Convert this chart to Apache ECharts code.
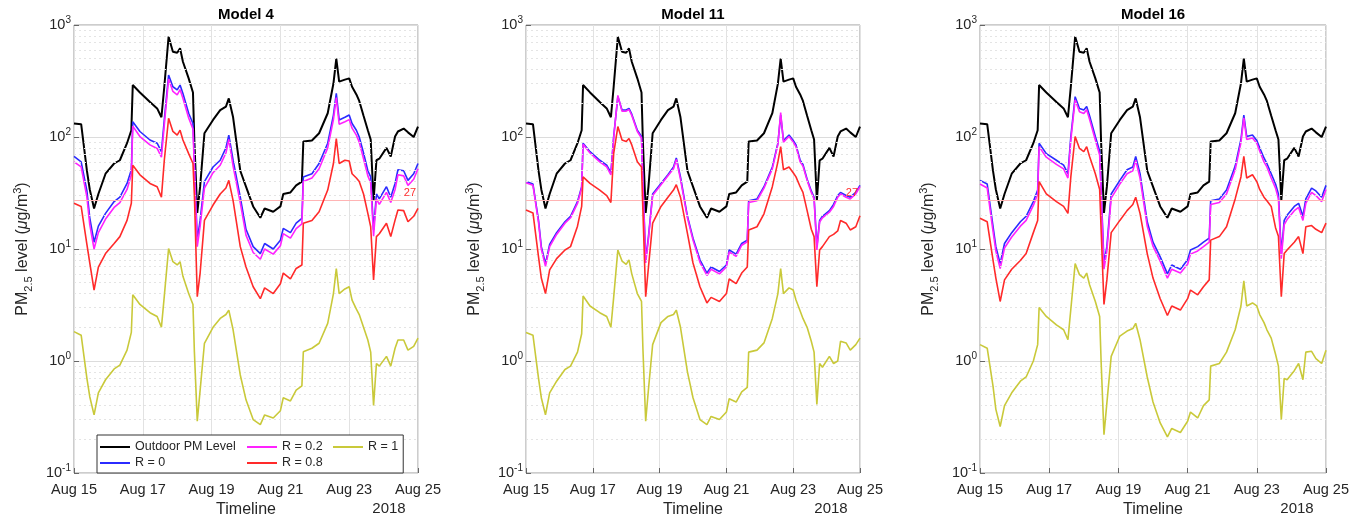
<!DOCTYPE html>
<html>
<head>
<meta charset="utf-8">
<script src="https://cdn.jsdelivr.net/npm/echarts@6/dist/echarts.min.js"></script>
<style>
  html, body { margin: 0; padding: 0; background: #fff; }
  #main { width: 1363px; height: 529px; }
</style>
</head>
<body>
<div id="main"></div>
<script>
// hours since 2018-08-15 00:00
var hours = [0,5,9,11,14,17,22,28,32,37, 40,41,46,53,58,61,63,66,69,72, 74,76,80,83,84,86,88,91,97,102,
  106,108,111,116,120,125,130,133,139,144, 146,151,155,159,160,166,171,177,181,183, 185,189,192,194,197,199,202,205,207,209,
  211,213,218,221,224,226,230,233,237,240];

// outdoor level, same in every panel
var outdoor = [132,130,50,34,23,31,47,58,62,88, 115,291,250,205,180,150,281,787,578,566, 619,470,334,250,90,21,36,108,142,174,
  187,221,150,50,36,24,19,23,21.5,24, 31,32,37,40,91,93,108,163,300,500, 312,325,334,281,240,210,155,115,95,27,
  62,64,80,67,101,112,119,110,100,124];

// Model 4
var m4R0 = [67,60,33,19,11.5,16,20.8,26.5,29,38.5, 51,137,112,94,88,74,142,357,281,263, 291,245,163,132,60,12,18,40,54,62,
  80,104,62,29,15,10.5,9.1,11.2,10,12, 15.3,14,17,18.8,44,47,58,88,157,245, 142,150,157,132,115,100,72,50,44,14.8,
  31,28,36,29,38.5,51,50,41,47,58];
var m4R02 = [60,54,29,16.5,10,14,18.5,23.5,26,34, 46,125,101,85,79,66,128,330,255,238, 265,222,148,118,52,10.5,16,35,48,56,
  72,95,55,26,13.3,9.3,8.1,10,9,10.7, 13.7,12.5,15.2,16.8,40,43,52,80,143,225, 130,137,143,120,104,90,64,45,39,13,
  28,25,32,26,34,46,45,37,42,52];
var m4R08 = [25.6,24,11,7.5,4.3,6.9,9.1,11.2,12.9,18, 25.6,56,46,38.5,36,29,62,147,112,104, 115,94,71,58,30,3.75,6.1,18,24.7,31,
  35,41,27,10.5,6.9,4.6,3.6,4.5,4.0,4.9, 6.1,5.4,6.7,7.2,17,18,21.5,33.6,58,97, 58,62,61,47,43,40,31,20.8,15.8,5.3,
  12.9,13.7,17,12.9,18.1,22.3,22,17.5,19.6,23];
var m4R1 = [1.83,1.7,0.7,0.48,0.33,0.52,0.68,0.85,0.92,1.25, 1.8,3.9,3.2,2.7,2.5,2.0,3.8,10.1,7.7,7.2, 7.7,5.7,4.0,3.2,1.2,0.29,0.55,1.44,2.0,2.4,
  2.6,2.85,1.9,0.75,0.45,0.3,0.27,0.33,0.31,0.36, 0.47,0.44,0.55,0.6,1.21,1.3,1.44,2.17,4.0,6.7, 4.0,4.4,4.6,3.5,2.9,2.6,2.0,1.54,1.2,0.4,
  0.95,0.9,1.1,0.9,1.3,1.54,1.54,1.25,1.35,1.6];

// Model 11
var m11R0 = [40,38,18,10.5,7.4,11,14,17.5,19.6,26.5, 36,88,74,62,56,48,101,229,174,174, 180,160,115,101,40,8.0,12.9,31,38.5,46,
  54,65,44,19.6,12.5,8.0,6.1,6.9,6.3,7.2, 9.8,9.0,11.2,12,27,28,36,54,88,157, 93,104,93,85,62,57,42,33,29,10.5,
  18,19.6,22,25,30,32,30,29,32,37];
var m11R02 = [39,37,17.3,10,7,10.5,13.5,17,19,25.5, 35,86,72,60,54,46,98,235,170,170, 176,156,112,98,38,7.5,12.4,30,37.5,45,
  52,63,42,19,12,7.6,5.8,6.6,6.0,6.9, 9.4,8.6,10.8,11.6,26,27,35,52,86,165, 90,101,90,82,60,55,41,32,28,9.8,
  17.4,19,21.3,24,29,31,29,28,31,36];
var m11R08 = [22.3,21,8.5,5.5,4.0,6.5,8.2,9.8,10.5,16, 24,44,38.5,33.6,30,26,71,124,94,91, 97,85,60,54,22,3.75,6.9,17,24,29,
  33.6,37.5,29,13.8,7.5,4.6,3.3,3.7,3.4,4.0, 5.4,4.9,6.1,6.9,14.8,15.8,20.6,36,60,82, 51,54,48,44,36,32,22,15,12.9,4.6,
  9.8,10.5,12.9,13.5,14.5,18,17,14.8,15.8,19.8];
var m11R1 = [1.8,1.7,0.7,0.47,0.33,0.52,0.66,0.84,0.9,1.2, 1.75,3.8,3.1,2.7,2.5,2.0,3.7,9.8,7.8,7.3, 8.0,6.0,4.0,3.4,1.3,0.29,0.56,1.4,2.2,2.5,
  2.6,2.85,2.0,0.8,0.47,0.3,0.27,0.32,0.3,0.35, 0.46,0.43,0.53,0.58,1.2,1.25,1.45,2.4,4.0,6.7, 4.0,4.5,4.3,3.5,2.8,2.4,2.0,1.5,1.2,0.41,
  0.95,0.88,1.1,0.95,1.0,1.5,1.45,1.25,1.4,1.6];

// Model 16
var m16R0 = [41,38,16,10.5,7.4,11.2,14,17.5,19.6,26.5, 33.6,88,71,62,56,47,101,229,180,174, 187,155,101,75,35,7.4,10.5,31,41,51,
  54,67,47,17.5,11.5,8.5,6.0,7.2,6.6,8.0, 9.8,10.5,11.5,12.5,27,28,33.6,55,95,157, 101,104,93,80,65,58,47,38,31,9.1,
  18,20,24,25.6,19.6,28,35,33,29,37];
var m16R02 = [38,35,14.5,9.6,6.7,10.2,12.8,16,18,24.5, 31,82,66,57,52,43,94,215,168,162, 175,144,94,69,32,6.6,9.6,28.5,38,47,
  50,62,43,16,10.6,7.8,5.5,6.6,6.1,7.3, 9.0,9.6,10.5,11.5,25,26,31,51,89,148, 95,98,88,75,60,54,43,35,28,8.2,
  16.5,18.3,22,23.5,18,25.5,32,30,26.5,34];
var m16R08 = [18.8,17.5,8.0,5.5,3.4,5.3,6.6,7.9,9.1,14, 18,40,31,26.5,24,20.8,44,101,79,74, 82,67,47,34,15,3.2,5.3,14,18,22,
  25,29,20.8,9.1,5.5,3.6,2.55,3.1,2.85,3.6, 4.3,3.9,4.6,5.3,12,12.9,15.8,28,44,67, 43,46,40,34,29,27,24,15.5,13,3.75,
  9.1,9.8,11.5,12.9,9.1,15.8,16.2,15,14,17];
var m16R1 = [1.4,1.3,0.6,0.37,0.26,0.4,0.52,0.66,0.72,1.0, 1.4,3.0,2.5,2.1,1.9,1.55,2.9,7.4,5.9,5.5, 6.1,4.8,3.4,2.5,1.0,0.22,0.42,1.1,1.67,1.85,
  1.95,2.17,1.55,0.72,0.43,0.28,0.21,0.25,0.23,0.29, 0.35,0.31,0.4,0.45,0.9,0.95,1.2,1.9,3.1,5.2, 3.1,3.3,3.1,2.6,2.2,1.9,1.6,1.15,0.9,0.3,
  0.7,0.68,0.82,0.95,0.68,1.2,1.22,1.05,0.95,1.25];

var modelNames = ['Model 4', 'Model 11', 'Model 16'];
var seriesNames = ['Outdoor PM Level', 'R = 0', 'R = 0.2', 'R = 0.8', 'R = 1'];
var modelData = [
  [outdoor, m4R0, m4R02, m4R08, m4R1],
  [outdoor, m11R0, m11R02, m11R08, m11R1],
  [outdoor, m16R0, m16R02, m16R08, m16R1]
];
var xTickLabels = ['Aug 15', 'Aug 17', 'Aug 19', 'Aug 21', 'Aug 23', 'Aug 25'];
var yearLabel = '2018';
var minorGridValues = [0.2,0.3,0.4,0.5,0.6,0.7,0.8,0.9, 2,3,4,5,6,7,8,9, 20,30,40,50,60,70,80,90, 200,300,400,500,600,700,800,900];
var thresholdValue = 27;

var font = "'Liberation Sans', Arial, sans-serif";
var colors = ['#000000', '#2b2bff', '#ff22ff', '#ff2a2a', '#c9c93a'];
var widths = [2, 1.6, 1.6, 1.6, 1.6];
var grids = [
  {left: 74, top: 25, width: 344, height: 448},
  {left: 526, top: 25, width: 334, height: 448},
  {left: 980, top: 25, width: 346, height: 448}
];

var myChart = echarts.init(document.getElementById('main'));

var xAxes = [], yAxes = [], series = [], graphics = [];
grids.forEach(function (g, i) {
    xAxes.push({
        gridIndex: i, type: 'value', min: 0, max: 240, interval: 48,
        name: 'Timeline', nameLocation: 'middle', nameGap: 27,
        nameTextStyle: {fontSize: 16, color: '#262626', fontFamily: font},
        axisLine: {show: false},
        axisTick: {inside: true, length: 5, lineStyle: {color: '#666'}},
        axisLabel: {
            fontSize: 14.5, color: '#262626', margin: 9, fontFamily: font,
            showMinLabel: true, showMaxLabel: true,
            formatter: function (v) { return xTickLabels[Math.round(v / 48)]; }
        },
        splitLine: {show: true, lineStyle: {color: '#e2e2e2', width: 1}}
    });
    yAxes.push({
        gridIndex: i, type: 'log', logBase: 10, min: 0.1, max: 1000, interval: 1,
        name: 'PM{sub|2.5} level ({mu|μ}g/m{sup|3})', nameLocation: 'middle', nameGap: 40,
        nameTextStyle: {
            fontSize: 16, color: '#262626', fontFamily: font, lineHeight: 22,
            rich: {
                sub: {fontSize: 11, lineHeight: 11, verticalAlign: 'bottom', color: '#262626', fontFamily: font},
                sup: {fontSize: 11, lineHeight: 11, verticalAlign: 'top', color: '#262626', fontFamily: font},
                mu: {fontSize: 16, fontStyle: 'italic', color: '#262626', fontFamily: font}
            }
        },
        axisLine: {show: false},
        axisTick: {inside: true, length: 5, lineStyle: {color: '#666'}},
        axisLabel: {
            fontSize: 14.5, color: '#262626', margin: 3, fontFamily: font, lineHeight: 20,
            showMinLabel: true, showMaxLabel: true,
            formatter: function (v) { return '10{sup|' + Math.round(Math.log10(v)) + '}'; },
            rich: {sup: {fontSize: 10, lineHeight: 10, verticalAlign: 'top', color: '#262626', fontFamily: font}}
        },
        splitLine: {show: true, lineStyle: {color: '#dcdcdc', width: 1}}
    });

    // minor grid lines and the 27 reference line
    var markData = minorGridValues.map(function (v) { return {yAxis: v}; });
    markData.push({
        yAxis: thresholdValue,
        lineStyle: {color: '#ffb4b4', type: 'solid', width: 1},
        label: {show: i < 2, position: 'insideEndTop', formatter: String(thresholdValue),
                color: '#ff3030', fontSize: 11, fontFamily: font, distance: 2}
    });
    series.push({
        name: 'grid' + i, type: 'line', xAxisIndex: i, yAxisIndex: i, data: [], z: 1, silent: true,
        markLine: {
            silent: true, symbol: ['none', 'none'], animation: false,
            label: {show: false},
            lineStyle: {color: '#e4e4e4', type: [2, 3], width: 1},
            data: markData
        }
    });

    modelData[i].forEach(function (vals, k) {
        series.push({
            name: seriesNames[k], type: 'line', xAxisIndex: i, yAxisIndex: i,
            symbol: 'none', smooth: false, z: 2 + k,
            lineStyle: {color: colors[k], width: widths[k]},
            itemStyle: {color: colors[k]},
            data: hours.map(function (h, j) { return [h, vals[j]]; })
        });
    });

    var cx = g.left + g.width / 2;
    graphics.push({
        type: 'text', x: cx, y: 15,
        style: {text: modelNames[i], fill: '#000', font: 'bold 15px ' + font, align: 'center', verticalAlign: 'middle'}
    });
    graphics.push({
        type: 'text', x: g.left + g.width - 29, y: 509,
        style: {text: yearLabel, fill: '#262626', font: '15px ' + font, align: 'center', verticalAlign: 'middle'}
    });
});

var legendText = {fontSize: 12.5, color: '#262626', fontFamily: font, lineHeight: 16};
var option = {
    animation: false,
    backgroundColor: '#ffffff',
    textStyle: {fontFamily: font},
    grid: grids.map(function (g) {
        return Object.assign({show: true, borderColor: '#9a9a9a', borderWidth: 1, containLabel: false}, g);
    }),
    xAxis: xAxes,
    yAxis: yAxes,
    legend: [
        {
            left: 97, top: 435, orient: 'horizontal', icon: 'rect', itemWidth: 30, itemHeight: 2, itemGap: 8,
            padding: [4, 5, 18, 3], backgroundColor: '#fff', borderColor: '#333', borderWidth: 1,
            selectedMode: false, textStyle: legendText, z: 6,
            data: [
                {name: 'Outdoor PM Level', textStyle: {width: 104}},
                {name: 'R = 0.2', textStyle: {width: 43}},
                {name: 'R = 1'}
            ]
        },
        {
            left: 100, top: 455, orient: 'horizontal', icon: 'rect', itemWidth: 30, itemHeight: 2, itemGap: 8,
            padding: 0, selectedMode: false, textStyle: legendText, z: 7,
            data: [
                {name: 'R = 0', textStyle: {width: 104}},
                {name: 'R = 0.8'}
            ]
        }
    ],
    graphic: graphics,
    series: series
};
myChart.setOption(option);
</script>
</body>
</html>
